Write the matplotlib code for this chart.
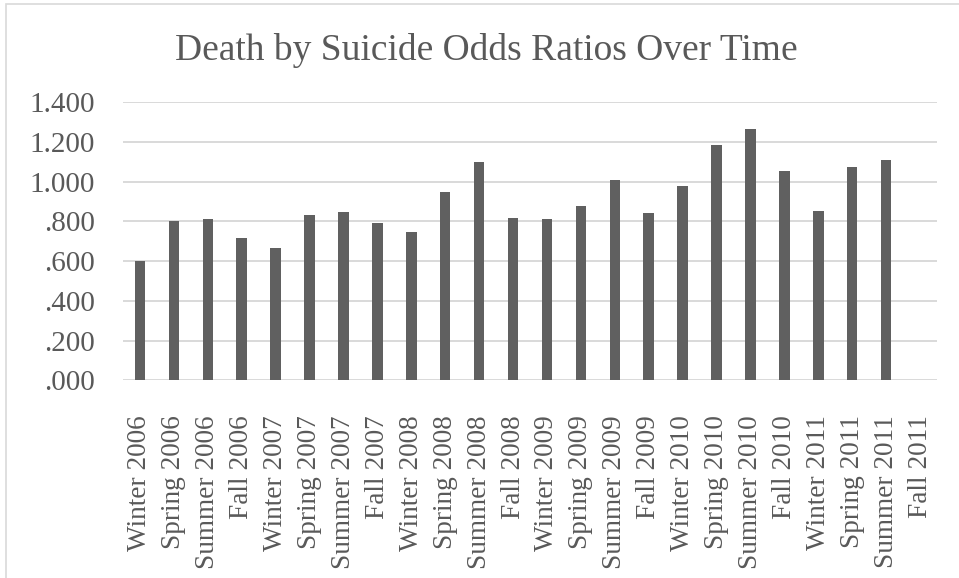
import matplotlib
matplotlib.use('Agg')
import matplotlib.pyplot as plt
from matplotlib.patches import Rectangle

# sezony i ilorazy szans
seasons = ['Winter', 'Spring', 'Summer', 'Fall']
years = [2006, 2007, 2008, 2009, 2010, 2011]
labels = [f'{s} {y}' for y in years for s in seasons]
odds = [0.601, 0.802, 0.813, 0.719, 0.665, 0.833, 0.846, 0.792, 0.747, 0.947, 1.101, 0.816,
        0.813, 0.880, 1.011, 0.843, 0.979, 1.184, 1.268, 1.054, 0.855, 1.075, 1.110, None]
yticks = [0.0, 0.2, 0.4, 0.6, 0.8, 1.0, 1.2, 1.4]

plt.rcParams['font.family'] = ['Liberation Serif', 'DejaVu Serif']
txt = '#595959'
grid = '#d9d9d9'

fig = plt.figure(figsize=(9.59, 5.78), dpi=100)
ax = fig.add_axes([123 / 959, 1 - 380.3 / 578, 814 / 959, 278 / 578])

xs = [i for i, v in enumerate(odds) if v is not None]
vals = [v for v in odds if v is not None]
ax.bar(xs, vals, width=0.31, color='#606060', zorder=3)

ax.set_xlim(-0.5, len(labels) - 0.5)
ax.set_ylim(0, 1.4)
ax.set_yticks(yticks)
ax.set_yticklabels([f'{v:.3f}'.lstrip('0') if v < 1 else f'{v:.3f}' for v in yticks])
ax.set_xticks(range(len(labels)))
ax.set_xticklabels(labels, rotation=90)
ax.tick_params(axis='y', length=0, pad=20, labelsize=21, labelcolor=txt)
ax.tick_params(axis='x', length=0, pad=25, labelsize=19.6, labelcolor=txt)

for v in yticks:
    ax.axhline(v, color=grid, lw=1.4, zorder=1)
for s in ax.spines.values():
    s.set_visible(False)

fig.text(486 / 959, 1 - 60 / 578, 'Death by Suicide Odds Ratios Over Time',
         ha='center', va='baseline', fontsize=27, color=txt)

# ramka wykresu
fig.patches.append(Rectangle((6 / 959, -0.1), 1.0, 1.1 - 4 / 578, transform=fig.transFigure,
                             fill=False, edgecolor=grid, lw=1.2))

fig.savefig('out.png', dpi=100)
